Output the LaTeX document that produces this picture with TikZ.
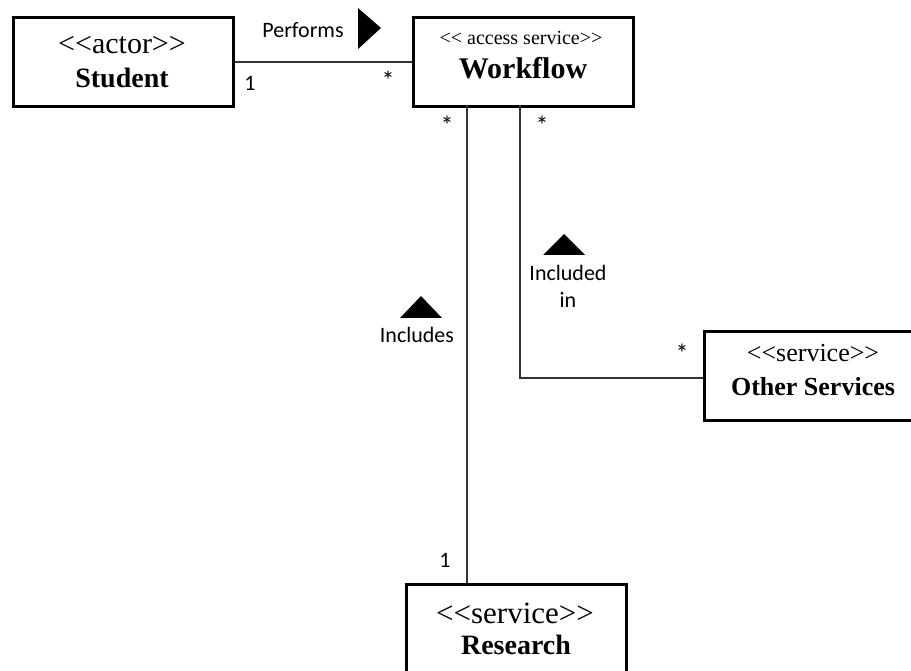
\documentclass[tikz,border=0pt]{standalone}
\usepackage{fontspec}
\setmainfont{Liberation Serif}
\newfontfamily\calibri{Carlito}
\newcommand{\lt}{<{}<}
\newcommand{\gt}{>{}>}
\begin{document}
\begin{tikzpicture}[x=1pt,y=-1pt,
  box/.style={draw=black,line width=2.6pt,minimum width=220pt,minimum height=89pt,inner sep=0pt,anchor=north west},
  stereo/.style={font=\fontsize{30}{32}\selectfont,inner sep=0pt},
  cname/.style={font=\fontsize{28}{30}\selectfont\bfseries,inner sep=0pt},
  lbl/.style={font=\calibri\fontsize{22}{26}\selectfont,inner sep=0pt},
  mult/.style={font=\calibri\fontsize{26}{28}\selectfont,inner sep=0pt},
  conn/.style={draw=black!80,line width=1.8pt},
  tri/.style={fill=black,draw=none}]
\useasboundingbox (0,0) rectangle (911,671);
% boxes
\node[box] (st) at (12,16) {};
\node[box] (wf) at (412,16) {};
\node[box] (os) at (703,330) {};
\node[box] (rs) at (405,583) {};
% box texts
\node[stereo] (stS) at (122,45) {\lt actor\gt};
\node[cname] (stN) at (122,78) {Student};
\node[stereo,font=\fontsize{20}{22}\selectfont] (wfS) at (521,38) {\lt{} access service\gt};
\node[cname,font=\fontsize{30}{32}\selectfont\bfseries] (wfN) at (523,68) {Workflow};
\node[stereo,font=\fontsize{26}{28}\selectfont] (osS) at (813,353) {\lt service\gt};
\node[cname,font=\fontsize{26}{28}\selectfont\bfseries] (osN) at (813,387) {Other Services};
\node[stereo,font=\fontsize{31}{32}\selectfont] (rsS) at (515,613) {\lt service\gt};
\node[cname] (rsN) at (516,645) {Research};
% connectors
\draw[conn] (st.east) -- (wf.west);
\coordinate (a1) at (467,105);
\coordinate (a2) at (467,583);
\draw[conn] (a1) -- (a2);
\coordinate (b1) at (520,105);
\coordinate (b2) at (520,378);
\coordinate (b3) at (703,378);
\draw[conn] (b1) -- (b2) -- (b3);
% labels
\node[lbl] (lPerf) at (303,30) {Performs};
\node[lbl] (m1) at (250,83) {1};
\node[mult] (m2) at (388,80) {*};
\node[mult] (m3) at (447,125) {*};
\node[mult] (m4) at (542,125) {*};
\node[lbl] (lInc1) at (568,273) {Included};
\node[lbl] (lInc2) at (568,300) {in};
\node[lbl] (lIncl) at (417,335) {Includes};
\node[mult] (m5) at (682,353) {*};
\node[lbl] (m6) at (445,560) {1};
% direction triangles
\fill[tri] (358,8) -- (381,28) -- (358,49) -- cycle;
\fill[tri] (400,318) -- (421,296) -- (442,318) -- cycle;
\fill[tri] (543,255) -- (564,234) -- (585,255) -- cycle;
\end{tikzpicture}
\end{document}
